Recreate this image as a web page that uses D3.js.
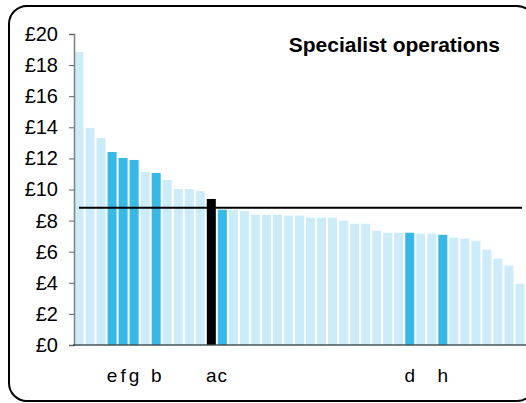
<!DOCTYPE html>
<html><head><meta charset="utf-8">
<script src="https://cdn.jsdelivr.net/npm/d3@7"></script>
<style>body{margin:0;background:#fff}svg{display:block}text{font-family:"Liberation Sans",Arial,sans-serif}</style>
</head><body>
<script>
const values = [18.84,13.95,13.31,12.41,12.03,11.9,11.13,11.06,10.61,10.03,10.03,9.9,9.39,8.7,8.7,8.61,8.38,8.38,8.38,8.32,8.32,8.19,8.19,8.19,8.0,7.8,7.8,7.35,7.22,7.22,7.22,7.16,7.16,7.09,6.9,6.84,6.71,6.13,5.55,5.1,3.94];
const labels = ["","","","e","f","g","","b","","","","","a","c","","","","","","","","","","","","","","","","","d","","","h","","","","","","",""];
const kinds = values.map((v,i)=> i===12 ? "black" : (labels[i] ? "dark" : "light"));
const average = 8.83;
const yTicks = [0,2,4,6,8,10,12,14,16,18,20];
const title = "Specialist operations";

const W=526,H=403;
const svg=d3.select("body").append("svg").attr("width",W).attr("height",H);
svg.append("rect").attr("x",9).attr("y",6).attr("width",526).attr("height",395).attr("rx",18)
  .attr("fill","none").attr("stroke","#000").attr("stroke-width",2);

const x=d3.scaleBand().domain(d3.range(values.length)).range([74,74+11*values.length]).paddingInner(2/11).paddingOuter(0.5/11);
const y=d3.scaleLinear().domain([0,20]).range([345,34]);
const col={light:"#cdecf9",dark:"#35b9e8",black:"#000"};

svg.append("g").selectAll("rect").data(values).join("rect")
  .attr("x",(d,i)=>x(i)).attr("width",x.bandwidth())
  .attr("y",d=>y(d)).attr("height",d=>y(0)-y(d))
  .attr("fill",(d,i)=>col[kinds[i]]);

// average line
svg.append("line").attr("x1",79).attr("x2",522).attr("y1",y(average)).attr("y2",y(average))
  .attr("stroke","#000").attr("stroke-width",2);

// y axis
const ya=svg.append("g").attr("transform","translate(74,0)")
  .call(d3.axisLeft(y).tickValues(yTicks).tickSize(5).tickPadding(11).tickFormat(d=>"£"+d));
ya.select(".domain").attr("stroke","#808080").attr("stroke-width",1.5);
ya.selectAll(".tick line").attr("stroke","#606060");
ya.selectAll("text").attr("font-size",20).attr("fill","#000").attr("font-family","Liberation Sans, Arial, sans-serif");

// x axis line
svg.append("line").attr("x1",73).attr("x2",526).attr("y1",y(0)).attr("y2",y(0))
  .attr("stroke","#3a4a50").attr("stroke-opacity",0.7).attr("stroke-width",2);

// category labels
svg.append("g").selectAll("text").data(labels).join("text")
  .attr("x",(d,i)=>x(i)+x.bandwidth()/2).attr("y",382).attr("text-anchor","middle")
  .attr("font-size",19).text(d=>d);

svg.append("text").attr("x",500).attr("y",52).attr("text-anchor","end")
  .attr("font-size",21).attr("font-weight","bold").text(title);
</script>
</body></html>
